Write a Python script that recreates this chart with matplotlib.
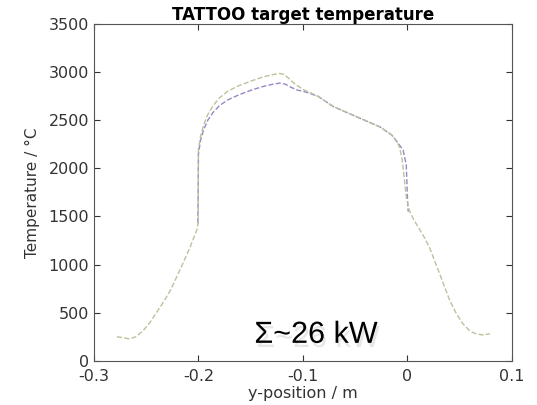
import matplotlib
matplotlib.use('Agg')
import matplotlib.pyplot as plt
import matplotlib.patheffects as pe

plt.rcParams['font.family'] = ['DejaVu Sans']

# outer (higher peak) profile
pos_a = [-0.278, -0.272, -0.266, -0.260, -0.253, -0.247, -0.240, -0.233, -0.227, -0.218,
         -0.208, -0.2017, -0.2002, -0.2000, -0.198, -0.195, -0.191, -0.186, -0.180, -0.172,
         -0.162, -0.150, -0.138, -0.128, -0.122, -0.118, -0.113, -0.108, -0.100, -0.0853,
         -0.071, -0.0455, -0.0263, -0.0151, -0.0105, -0.0075, -0.0050, -0.0030, -0.0010, 0.002,
         0.006, 0.012, 0.017, 0.0215, 0.031, 0.0407, 0.047, 0.0534, 0.060, 0.0662,
         0.072, 0.079]
temp_a = [250, 240, 228, 250, 312, 390, 503, 620, 729, 937,
          1180, 1354, 1430, 2200, 2330, 2450, 2560, 2650, 2730, 2800,
          2855, 2905, 2950, 2975, 2985, 2975, 2930, 2880, 2820, 2747,
          2642, 2521, 2431, 2347, 2290, 2220, 2100, 1900, 1700, 1560,
          1470, 1360, 1270, 1170, 903, 625, 490, 382, 310, 278,
          270, 280]

# inner (lower peak) profile
pos_b = [-0.2005, -0.2000, -0.198, -0.195, -0.191, -0.186, -0.180, -0.172, -0.162, -0.150,
         -0.138, -0.128, -0.122, -0.117, -0.112, -0.106, -0.0965, -0.0853, -0.071, -0.0455,
         -0.0263, -0.0151, -0.0088, -0.0040, -0.0010, 0.0005, 0.001]
temp_b = [1430, 2150, 2290, 2400, 2500, 2580, 2650, 2710, 2760, 2810,
          2850, 2875, 2885, 2875, 2845, 2815, 2790, 2747, 2642, 2521,
          2431, 2347, 2260, 2190, 2035, 1583, 1550]

fig = plt.figure(figsize=(5.37, 4.05), dpi=100)
ax = fig.add_axes([0.175, 0.109, 0.778, 0.832])

ax.plot(pos_b, temp_b, linestyle='--', color='#9a86c4', linewidth=1.0)
ax.plot(pos_a, temp_a, linestyle='--', color='#bcc29a', linewidth=1.0)

ax.set_xlim(-0.3, 0.1)
ax.set_ylim(0, 3500)
ax.set_xticks([-0.3, -0.2, -0.1, 0, 0.1])
ax.set_xticklabels(['-0.3', '-0.2', '-0.1', '0', '0.1'])
ax.set_yticks(range(0, 3501, 500))
ax.tick_params(direction='in', top=True, right=True, labelsize=11.5, colors='#333333', length=4)
ax.tick_params(axis='x', pad=6)
for s in ax.spines.values():
    s.set_color('#555555')
    s.set_linewidth(0.8)

ax.set_title('TATTOO target temperature', fontsize=12, fontweight='bold', pad=3)
ax.set_xlabel('y-position / m', fontsize=11.5, color='#333333', labelpad=1)
ax.set_ylabel('Temperature / °C', fontsize=11, color='#333333', labelpad=6)

ax.text(-0.0876, 187, 'Σ~26 kW', fontsize=22, ha='center', va='baseline', color='black',
        family=['Liberation Sans', 'DejaVu Sans'],
        path_effects=[pe.withSimplePatchShadow(offset=(1.5, -3), shadow_rgbFace='#bbbbbb', alpha=0.35)])

plt.savefig('out.png', dpi=100)
plt.close('all')
